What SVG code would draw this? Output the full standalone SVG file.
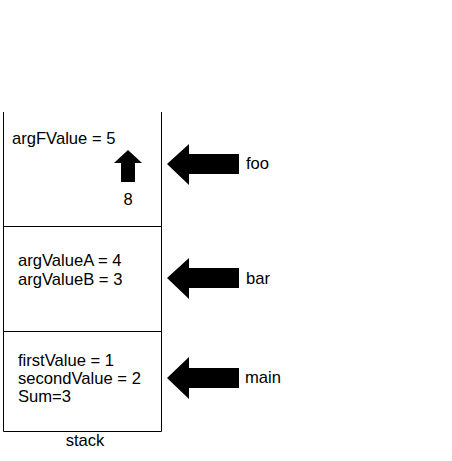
<svg xmlns="http://www.w3.org/2000/svg" width="452" height="461" viewBox="0 0 452 461">
<style>
.t{font-family:"Liberation Sans",Arial,sans-serif;font-size:16.6px;fill:#000}
.ln{stroke:#000;stroke-width:1;fill:none}
.ar{fill:#000}
</style>
<rect width="452" height="461" fill="#fff"/>
<g id="stack">
<path class="ln" d="M3.5,112 V431.5 H161.5 V112 M3.5,226.5 H161.5 M3.5,331.5 H161.5"/>
<text class="t" x="85" y="446" text-anchor="middle">stack</text>
</g>
<g id="frame-foo">
<text class="t" x="12" y="144">argFValue = 5</text>
<polygon class="ar" points="128,150 142,163 135,163 135,182 121,182 121,163 114,163"/>
<text class="t" x="128" y="205" text-anchor="middle">8</text>
</g>
<g id="frame-bar">
<text class="t" x="18" y="266">argValueA = 4</text>
<text class="t" x="18" y="285">argValueB = 3</text>
</g>
<g id="frame-main">
<text class="t" x="18" y="366">firstValue = 1</text>
<text class="t" x="18" y="384">secondValue = 2</text>
<text class="t" x="18" y="402">Sum=3</text>
</g>
<g id="connectors">
<polygon class="ar" points="167,164 189,144 189,154 239,154 239,174 189,174 189,185"/>
<polygon class="ar" points="167,278 189,258 189,268 239,268 239,288 189,288 189,299"/>
<polygon class="ar" points="167,378 189,357 189,368 239,368 239,388 189,388 189,399"/>
</g>
<g id="labels">
<text class="t" x="246" y="169">foo</text>
<text class="t" x="246" y="284">bar</text>
<text class="t" x="245" y="383">main</text>
</g>
</svg>
